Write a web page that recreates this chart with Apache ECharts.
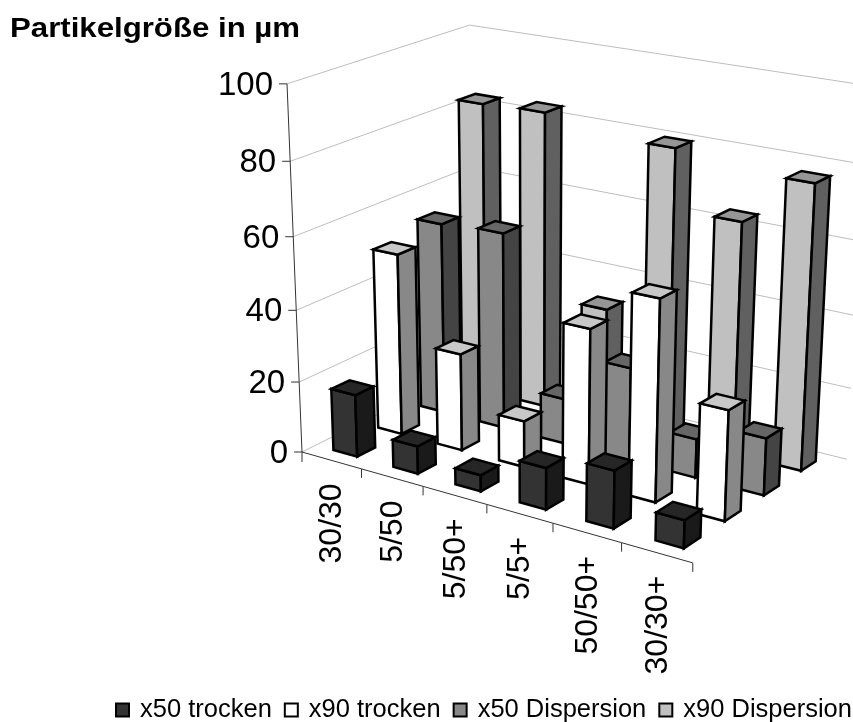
<!DOCTYPE html>
<html><head><meta charset="utf-8">
<style>html,body{margin:0;padding:0;background:#fff}#c{width:853px;height:722px}</style>
<script src="https://cdn.jsdelivr.net/npm/echarts@6/dist/echarts.min.js"></script>
</head><body><div id="c"></div>
<script>
const chartTitle = 'Partikelgröße in µm';
const categories = ['30/30','5/50','5/50+','5/5+','50/50+','30/30+'];
const valueTicks = [0,20,40,60,80,100];
const seriesNames = ['x50 trocken','x90 trocken','x50 Dispersion','x90 Dispersion'];
const x50Trocken = [17.5,7.7,4.5,11.4,15.6,7.5];
const x90Trocken = [50.9,27.2,12.9,42.5,54.5,29.7];
const x50Dispersion = [54.2,55.2,12.7,25.9,10.7,15.7];
const x90Dispersion = [82.9,83.5,32.3,80.1,63.9,77.4];
const rows = [x50Trocken,x90Trocken,x50Dispersion,x90Dispersion];
const faces = [
  {front:'#333333',side:'#1a1a1a',top:'#262626'},
  {front:'#ffffff',side:'#888888',top:'#c8c8c8'},
  {front:'#888888',side:'#444444',top:'#666666'},
  {front:'#c0c0c0',side:'#606060',top:'#969696'}
];
const depth = rows.length, maxV = 100;
// perspective projection: u along categories, v along rows, w value
function project(u,v,w){
  const D = 1 - 0.01705*u + 0.02181*v - 0.000614*w;
  return [(302 + 53.32*u + 53.06*v - 0.326*w)/D, (452 + 8.883*u - 13.24*v - 3.733*w)/D];
}
const chart = echarts.init(document.getElementById('c'),null,{renderer:'canvas'});
function P(api,u,v,w){ return api.coord(project(u,v,w)); }
const poly = (pts,fill)=>({type:'polygon',shape:{points:pts},style:{fill,stroke:'#000',lineWidth:2.5,lineJoin:'miter'}});
const seg = (a,b,stroke,lw)=>({type:'line',shape:{x1:a[0],y1:a[1],x2:b[0],y2:b[1]},style:{stroke,lineWidth:lw,fill:null}});
function barRender(rowIdx){
  const hw = 0.2;
  return function(params,api){
    const k = api.value(0), val = api.value(1);
    const u0=k+.5-hw,u1=k+.5+hw,v0=rowIdx+.5-hw,v1=rowIdx+.5+hw;
    const c = faces[rowIdx];
    return {type:'group',children:[
      poly([P(api,u0,v0,0),P(api,u1,v0,0),P(api,u1,v0,val),P(api,u0,v0,val)],c.front),
      poly([P(api,u1,v0,0),P(api,u1,v1,0),P(api,u1,v1,val),P(api,u1,v0,val)],c.side),
      poly([P(api,u0,v0,val),P(api,u1,v0,val),P(api,u1,v1,val),P(api,u0,v1,val)],c.top)
    ]};
  };
}
const series = [];
// walls and gridlines
series.push({type:'custom',name:'walls',silent:true,clip:false,data:valueTicks.map(t=>[t]),
  renderItem(params,api){
    const t = api.value(0);
    return {type:'group',children:[
      seg(P(api,0,0,t),P(api,0,depth,t),'#bdbdbd',1),
      seg(P(api,0,depth,t),P(api,categories.length,depth,t),'#bdbdbd',1)
    ]};
  }});
// bars: back row first
for(let r=depth-1;r>=0;r--){
  series.push({type:'custom',name:seriesNames[r],silent:true,clip:false,
    itemStyle:{color:faces[r].front,borderColor:'#000',borderWidth:1.5},
    data:rows[r].map((y,k)=>[k,y]),renderItem:barRender(r)});
}
// value axis
series.push({type:'custom',name:'valueAxis',silent:true,clip:false,data:valueTicks.map(t=>[t]),z:5,
  renderItem(params,api){
    const t = api.value(0), p = P(api,0,0,t), ch=[seg([p[0]-8,p[1]],p,'#333',1)];
    if(t===0) ch.push(seg(P(api,0,0,0),P(api,0,0,maxV),'#333',1));
    ch.push({type:'text',style:{text:String(t),x:p[0]-14,y:p[1]+2,align:'right',verticalAlign:'middle',
      font:'33px "Liberation Sans"',fill:'#000'}});
    return {type:'group',children:ch};
  }});
// category axis
series.push({type:'custom',name:'catAxis',silent:true,clip:false,data:categories.map((c,i)=>[i]),z:5,
  renderItem(params,api){
    const i = api.value(0), a=P(api,i,0,0), b=P(api,i+1,0,0), mid=P(api,i+.5,0,0);
    const ch=[seg(a,b,'#333',1),seg(b,[b[0],b[1]+9],'#333',1)];
    if(i===0) ch.push(seg(a,[a[0],a[1]+10],'#333',1));
    ch.push({type:'text',x:mid[0]+1,y:mid[1]+23,rotation:Math.PI/2,
      style:{text:categories[i],x:0,y:0,align:'right',verticalAlign:'middle',font:'32px "Liberation Sans"',fill:'#000'}});
    return {type:'group',children:ch};
  }});
chart.setOption({
  animation:false,
  graphic:[{type:'text',x:10,y:16,scaleX:1.155,silent:true,
    style:{text:chartTitle,font:'bold 27px "Liberation Sans"',fill:'#000'}}],
  grid:{left:0,right:0,top:0,bottom:0},
  xAxis:{type:'value',min:0,max:853,show:false},
  yAxis:{type:'value',min:0,max:722,inverse:true,show:false},
  legend:{data:seriesNames,left:115,top:697,width:790,padding:0,itemWidth:13,itemHeight:13,itemGap:12,icon:'rect',
    textStyle:{fontFamily:'Liberation Sans',fontSize:25.5,color:'#000',padding:[0,0,0,6]}},
  series
});
</script></body></html>
